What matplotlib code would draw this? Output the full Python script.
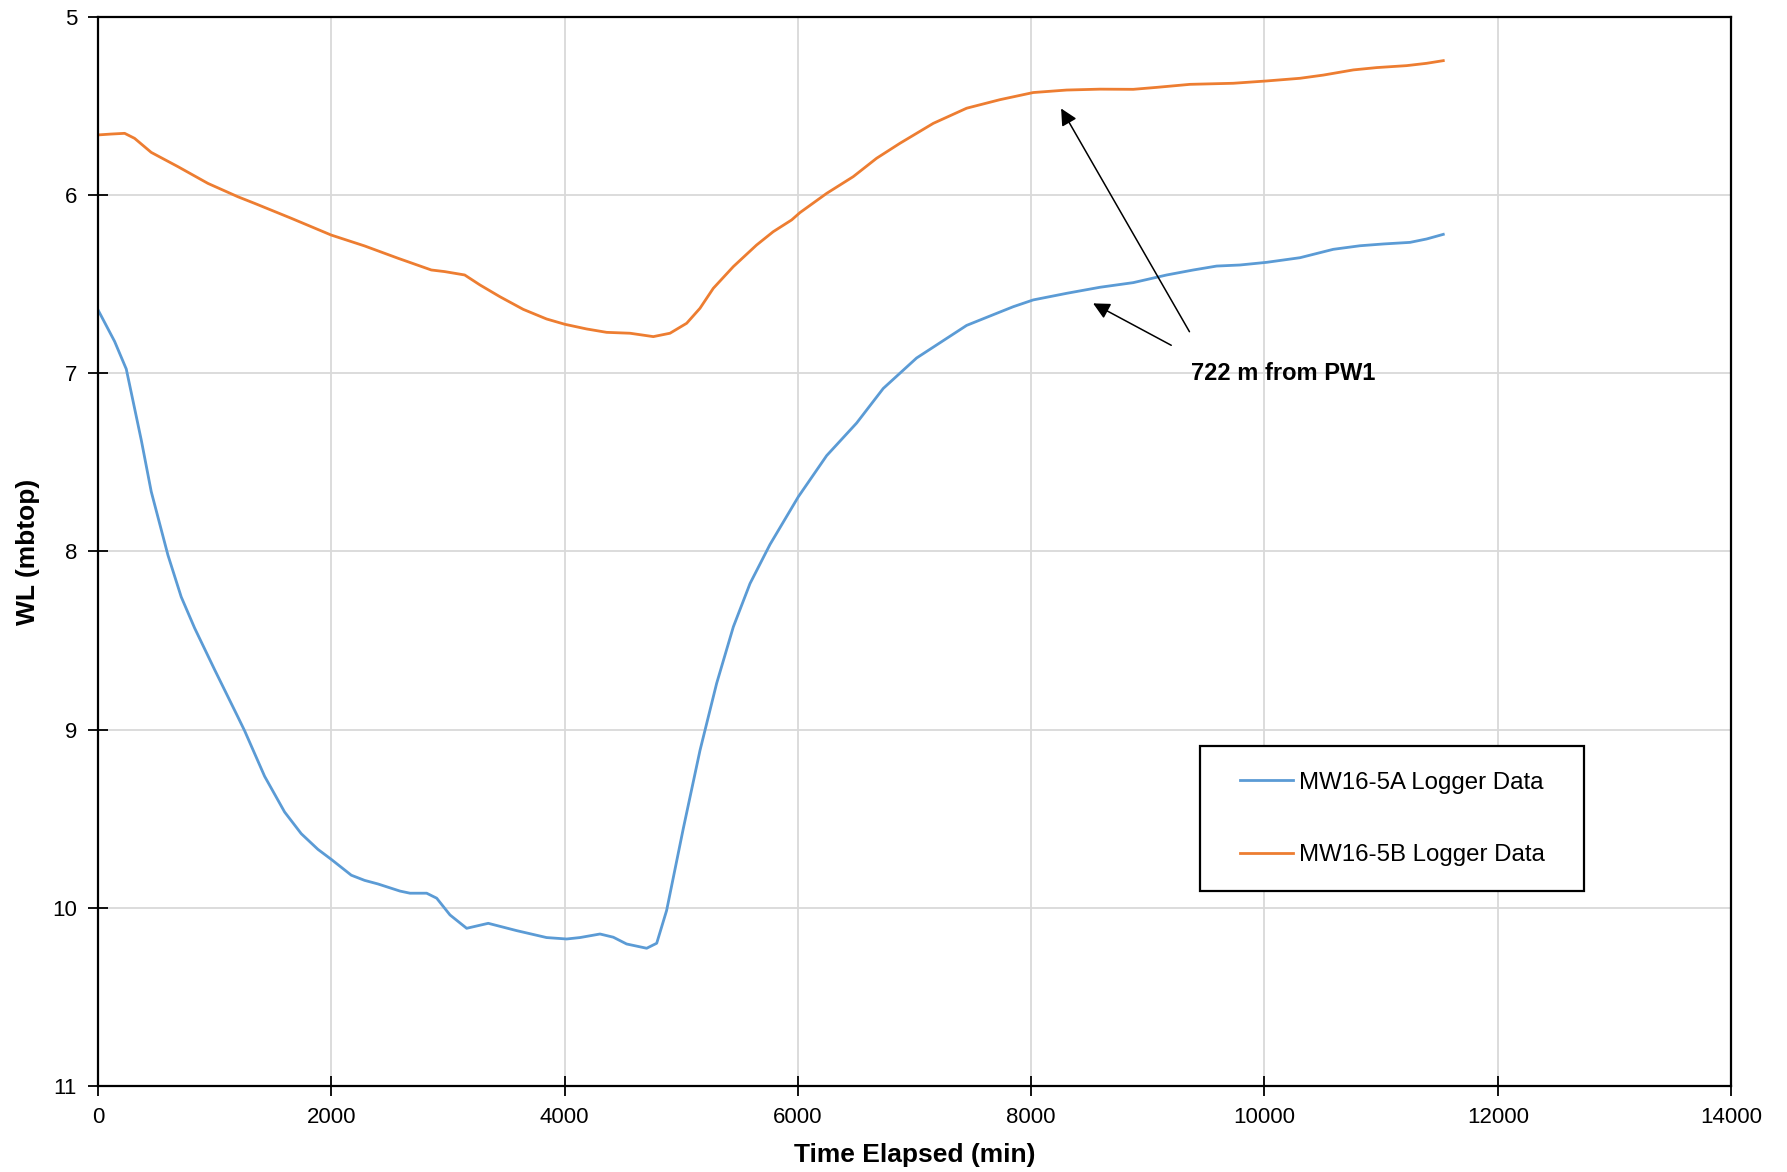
import matplotlib
matplotlib.use("Agg")
import matplotlib.pyplot as plt
from matplotlib.patches import Rectangle

plt.rcParams['font.family'] = ['Liberation Sans', 'DejaVu Sans']

# MW16-5A logger data (time in min, WL in mbtop)
t_a = [0, 143, 243, 286, 372, 457, 600, 714, 829, 1000, 1200, 1258, 1429, 1600,
       1743, 1886, 2000, 2172, 2286, 2400, 2589, 2675, 2818, 2904, 3018, 3161,
       3346, 3589, 3846, 4018, 4132, 4304, 4418, 4532, 4704, 4790, 4875, 5018,
       5161, 5304, 5447, 5590, 5761, 6004, 6247, 6504, 6732, 7018, 7447, 7675,
       7847, 8018, 8304, 8590, 8875, 9162, 9390, 9590, 9790, 10019, 10305,
       10590, 10819, 11019, 11248, 11390, 11533]
wl_a = [6.643, 6.821, 6.976, 7.109, 7.376, 7.664, 8.020, 8.255, 8.430, 8.663,
        8.929, 9.007, 9.262, 9.462, 9.584, 9.672, 9.728, 9.817, 9.846, 9.866,
        9.906, 9.918, 9.918, 9.946, 10.040, 10.115, 10.087, 10.128, 10.167,
        10.175, 10.167, 10.147, 10.165, 10.203, 10.227, 10.199, 10.015, 9.555,
        9.117, 8.740, 8.423, 8.180, 7.961, 7.693, 7.462, 7.279, 7.085, 6.914,
        6.731, 6.671, 6.626, 6.588, 6.551, 6.517, 6.491, 6.448, 6.420, 6.398,
        6.392, 6.377, 6.351, 6.304, 6.284, 6.274, 6.265, 6.246, 6.220]

# MW16-5B logger data
t_b = [0, 114, 229, 314, 457, 686, 943, 1200, 1343, 1658, 2000, 2286, 2572,
       2858, 2972, 3144, 3275, 3446, 3646, 3846, 4004, 4189, 4361, 4561, 4761,
       4904, 5047, 5161, 5275, 5447, 5646, 5789, 5947, 6018, 6247, 6475, 6675,
       6875, 7161, 7447, 7733, 8018, 8304, 8590, 8875, 9076, 9362, 9733, 10019,
       10305, 10505, 10762, 10962, 11219, 11390, 11533]
wl_b = [5.662, 5.657, 5.653, 5.681, 5.760, 5.840, 5.934, 6.009, 6.046, 6.130,
        6.224, 6.285, 6.354, 6.420, 6.429, 6.448, 6.504, 6.570, 6.641, 6.695,
        6.725, 6.751, 6.770, 6.775, 6.794, 6.775, 6.719, 6.635, 6.523, 6.401,
        6.280, 6.205, 6.139, 6.098, 5.990, 5.896, 5.793, 5.709, 5.597, 5.512,
        5.464, 5.424, 5.410, 5.405, 5.406, 5.395, 5.378, 5.372, 5.359, 5.344,
        5.326, 5.297, 5.284, 5.273, 5.260, 5.245]

series_labels = ["MW16-5A Logger Data", "MW16-5B Logger Data"]
series_colors = ["#5B9BD5", "#ED7D31"]

x_ticks = [0, 2000, 4000, 6000, 8000, 10000, 12000, 14000]
y_ticks = [5, 6, 7, 8, 9, 10, 11]

annot_text = "722 m from PW1"

fig = plt.figure(figsize=(17.87, 11.72), dpi=100)
ax = fig.add_axes([0.0548, 0.0734, 0.9139, 0.9121])

ax.plot(t_a, wl_a, color=series_colors[0], lw=2.0, label=series_labels[0],
        solid_joinstyle="round")
ax.plot(t_b, wl_b, color=series_colors[1], lw=2.0, label=series_labels[1],
        solid_joinstyle="round")

ax.set_xlim(0, 14000)
ax.set_ylim(11, 5)
ax.set_xticks(x_ticks)
ax.set_yticks(y_ticks)
ax.grid(True, color="#D9D9D9", lw=1.3)
ax.set_axisbelow(True)
for s in ax.spines.values():
    s.set_color("black")
    s.set_linewidth(1.6)
ax.tick_params(direction="inout", length=14, width=1.3, labelsize=16,
               colors="black", pad=8)

ax.set_xlabel("Time Elapsed (min)", fontsize=19, fontweight="bold", labelpad=11)
ax.set_ylabel("WL (mbtop)", fontsize=19, fontweight="bold", labelpad=9)

# annotation
ax.text(9369, 7.0, annot_text, fontsize=17, fontweight="bold", ha="left", va="center")
ax.annotate("", xy=(8245, 5.50), xytext=(9369, 6.78),
            arrowprops=dict(arrowstyle="-|>", color="black", lw=1.1, mutation_scale=25))
ax.annotate("", xy=(8510, 6.60), xytext=(9222, 6.85),
            arrowprops=dict(arrowstyle="-|>", color="black", lw=1.1, mutation_scale=25))

# legend with manual frame
rect = Rectangle((0.675, 0.182), 0.235, 0.136, transform=ax.transAxes,
                 facecolor="white", edgecolor="black", lw=1.6, zorder=4)
ax.add_patch(rect)
leg = ax.legend(loc="center", bbox_to_anchor=(0.675, 0.182, 0.235, 0.136),
                frameon=False, fontsize=17.3, handlelength=2.2, handletextpad=0.25,
                labelspacing=2.1, borderpad=0)
leg.set_zorder(5)

fig.savefig("out.png", dpi=100)
